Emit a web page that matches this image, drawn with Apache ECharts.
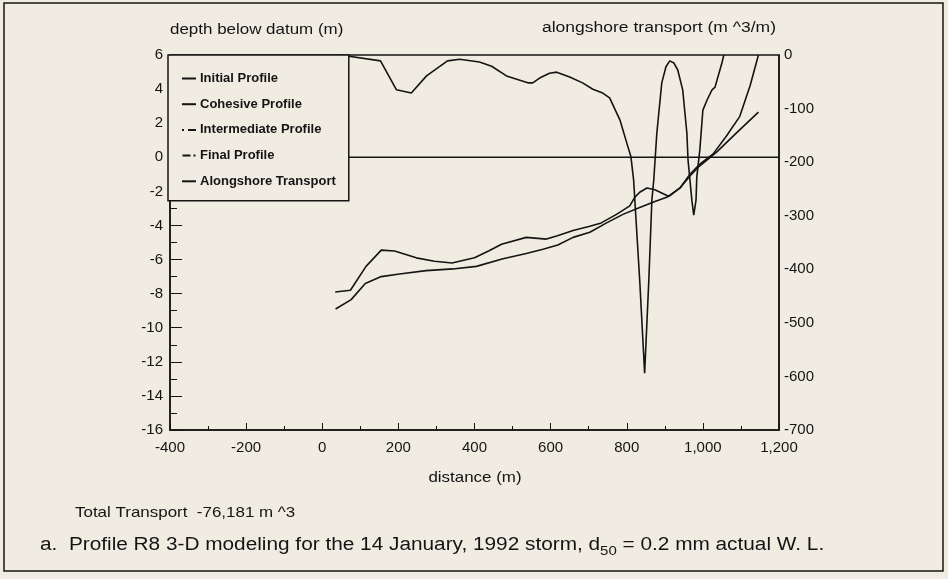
<!DOCTYPE html>
<html>
<head>
<meta charset="utf-8">
<script src="https://cdn.jsdelivr.net/npm/echarts@6/dist/echarts.min.js"></script>
<style>
    html, body { margin: 0; padding: 0; background: #f0ece2; }
    #chart { width: 948px; height: 579px; }
</style>
</head>
<body>
<div id="chart"></div>
<script>
    // profile depths (left axis) and transport (right axis)
    var initialDist  = [34, 74, 115, 155, 190, 247, 295, 341, 400, 437, 471, 536, 589, 618, 659, 703, 733, 773, 808, 821, 834, 853, 874, 911, 940, 966, 992, 1027, 1062, 1097, 1124, 1146];
    var initialDepth = [-7.9, -7.8, -6.4, -5.45, -5.5, -5.9, -6.1, -6.2, -5.9, -5.5, -5.1, -4.7, -4.8, -4.6, -4.3, -4.05, -3.85, -3.35, -2.85, -2.35, -2.05, -1.8, -1.9, -2.3, -1.8, -1.0, -0.4, 0.2, 1.25, 2.4, 4.2, 6.0];

    var cohesiveDist  = [-400, 1200];
    var cohesiveDepth = [0, 0];

    var finalDist  = [35, 76, 113, 155, 203, 273, 343, 405, 475, 536, 580, 619, 659, 703, 747, 790, 834, 874, 905, 940, 966, 992, 1036, 1089, 1146];
    var finalDepth = [-8.9, -8.35, -7.4, -7.0, -6.85, -6.65, -6.55, -6.4, -5.95, -5.65, -5.4, -5.15, -4.7, -4.4, -3.85, -3.35, -2.95, -2.6, -2.35, -1.8, -1.1, -0.5, 0.3, 1.45, 2.65];

    var transportDist = [35, 66, 153, 195, 234, 274, 329, 361, 413, 445, 484, 540, 553, 571, 597, 616, 650, 684, 711, 737, 755, 782, 800, 811, 818, 834, 847, 858, 866, 871, 879, 892, 903, 913, 924, 934, 947, 958, 961, 966, 971, 976, 982, 984, 992, 1000, 1011, 1024, 1032, 1037, 1050, 1055];
    var transportVal  = [0, -2, -11, -65, -71, -39, -11, -8, -13, -21, -39, -52, -52, -43, -34, -32, -41, -52, -64, -71, -80, -121, -164, -190, -233, -420, -594, -420, -271, -233, -146, -52, -22, -11, -15, -28, -65, -146, -196, -233, -271, -299, -271, -228, -177, -103, -84, -65, -60, -47, -15, 0];

    var legendNames = ['Initial Profile', 'Cohesive Profile', 'Intermediate Profile', 'Final Profile', 'Alongshore Transport'];

    function pairs(xs, ys) {
        var res = [];
        for (var i = 0; i < xs.length; i++) {
            res.push([xs[i], ys[i]]);
        }
        return res;
    }

    var FONT = '"Liberation Sans", Arial, Helvetica, sans-serif';
    var INK = '#141414';
    // the scanned lettering is a bit wider than Arial
    var WIDE = 1.13;

    var chart = echarts.init(document.getElementById('chart'));

    function lineSeries(name, data, yIndex) {
        return {
            name: name,
            type: 'line',
            yAxisIndex: yIndex,
            data: data,
            symbol: 'none',
            showSymbol: false,
            lineStyle: { color: INK, width: 1.6 },
            itemStyle: { color: INK },
            emphasis: { disabled: true },
            z: 2
        };
    }

    function label(text, x, y, size, align) {
        return {
            type: 'text', x: x, y: y, scaleX: WIDE, silent: true,
            style: { text: text, font: size + 'px ' + FONT, fill: INK, textAlign: align, textVerticalAlign: 'middle' }
        };
    }

    var option = {
        animation: false,
        backgroundColor: '#f0ece2',
        grid: {
            left: 170, top: 55, width: 609, height: 375,
            show: true, borderColor: INK, borderWidth: 1.5, backgroundColor: 'transparent'
        },
        legend: {
            orient: 'vertical',
            left: 168, top: 55,
            padding: [17, 13, 13, 14],
            itemGap: 12.7,
            itemWidth: 14, itemHeight: 2,
            backgroundColor: '#f0ece2',
            borderColor: INK, borderWidth: 1.5, borderRadius: 0,
            textStyle: { fontFamily: FONT, fontWeight: 'bold', fontSize: 13, color: INK, padding: [0, 0, 0, -1] },
            selectedMode: false,
            data: [
                { name: legendNames[0], icon: 'rect' },
                { name: legendNames[1], icon: 'rect' },
                { name: legendNames[2], icon: 'path://M0,0h2v2h-2z M6,0h8v2h-8z' },
                { name: legendNames[3], icon: 'path://M0,0h8v2h-8z M11,0h2v2h-2z' },
                { name: legendNames[4], icon: 'rect' }
            ]
        },
        xAxis: {
            type: 'value',
            min: -400, max: 1200, interval: 200,
            axisLine: { show: true, onZero: false, lineStyle: { color: INK, width: 1.5 } },
            axisTick: { show: true, inside: true, length: 7, lineStyle: { color: INK } },
            minorTick: { show: true, splitNumber: 2, length: 4, lineStyle: { color: INK } },
            splitLine: { show: false },
            axisLabel: {
                margin: 10, fontFamily: FONT, fontSize: 15, color: INK,
                formatter: function (v) { return echarts.format.addCommas(v); }
            }
        },
        yAxis: [
            {
                type: 'value',
                min: -16, max: 6, interval: 2,
                position: 'left',
                axisLine: { show: true, onZero: false, lineStyle: { color: INK, width: 1.5 } },
                axisTick: { show: true, inside: true, length: 12, lineStyle: { color: INK } },
                minorTick: { show: true, splitNumber: 2, length: 7, lineStyle: { color: INK } },
                splitLine: { show: false },
                axisLabel: { margin: 7, fontFamily: FONT, fontSize: 15, color: INK }
            },
            {
                type: 'value',
                min: -700, max: 0, interval: 100,
                position: 'right',
                axisLine: { show: true, onZero: false, lineStyle: { color: INK, width: 1.5 } },
                axisTick: { show: false },
                splitLine: { show: false },
                axisLabel: { margin: 5, fontFamily: FONT, fontSize: 15, color: INK }
            }
        ],
        graphic: [
            {
                type: 'rect', silent: true,
                shape: { x: 4, y: 3, width: 939, height: 568 },
                style: { fill: 'none', stroke: INK, lineWidth: 1.5 }
            },
            label('depth below datum (m)', 170, 30, 15, 'left'),
            label('alongshore transport (m ^3/m)', 776, 28, 15.5, 'right'),
            label('distance (m)', 475, 478, 15, 'center'),
            label('Total Transport  -76,181 m ^3', 75, 513, 15, 'left'),
            {
                type: 'text', x: 40, y: 545, scaleX: 1.155, silent: true,
                style: {
                    text: '{n|a.  Profile R8 3-D modeling for the 14 January, 1992 storm, d}{s|50}{n| = 0.2 mm actual W. L.}',
                    fill: INK, textAlign: 'left', textVerticalAlign: 'middle',
                    rich: {
                        n: { fontFamily: FONT, fontSize: 18, fill: INK },
                        s: { fontFamily: FONT, fontSize: 13, fill: INK, padding: [12, 0, 0, 0] }
                    }
                }
            }
        ],
        series: [
            lineSeries(legendNames[0], pairs(initialDist, initialDepth), 0),
            lineSeries(legendNames[1], pairs(cohesiveDist, cohesiveDepth), 0),
            lineSeries(legendNames[2], [], 0),
            lineSeries(legendNames[3], pairs(finalDist, finalDepth), 0),
            lineSeries(legendNames[4], pairs(transportDist, transportVal), 1)
        ]
    };

    chart.setOption(option);
</script>
</body>
</html>
